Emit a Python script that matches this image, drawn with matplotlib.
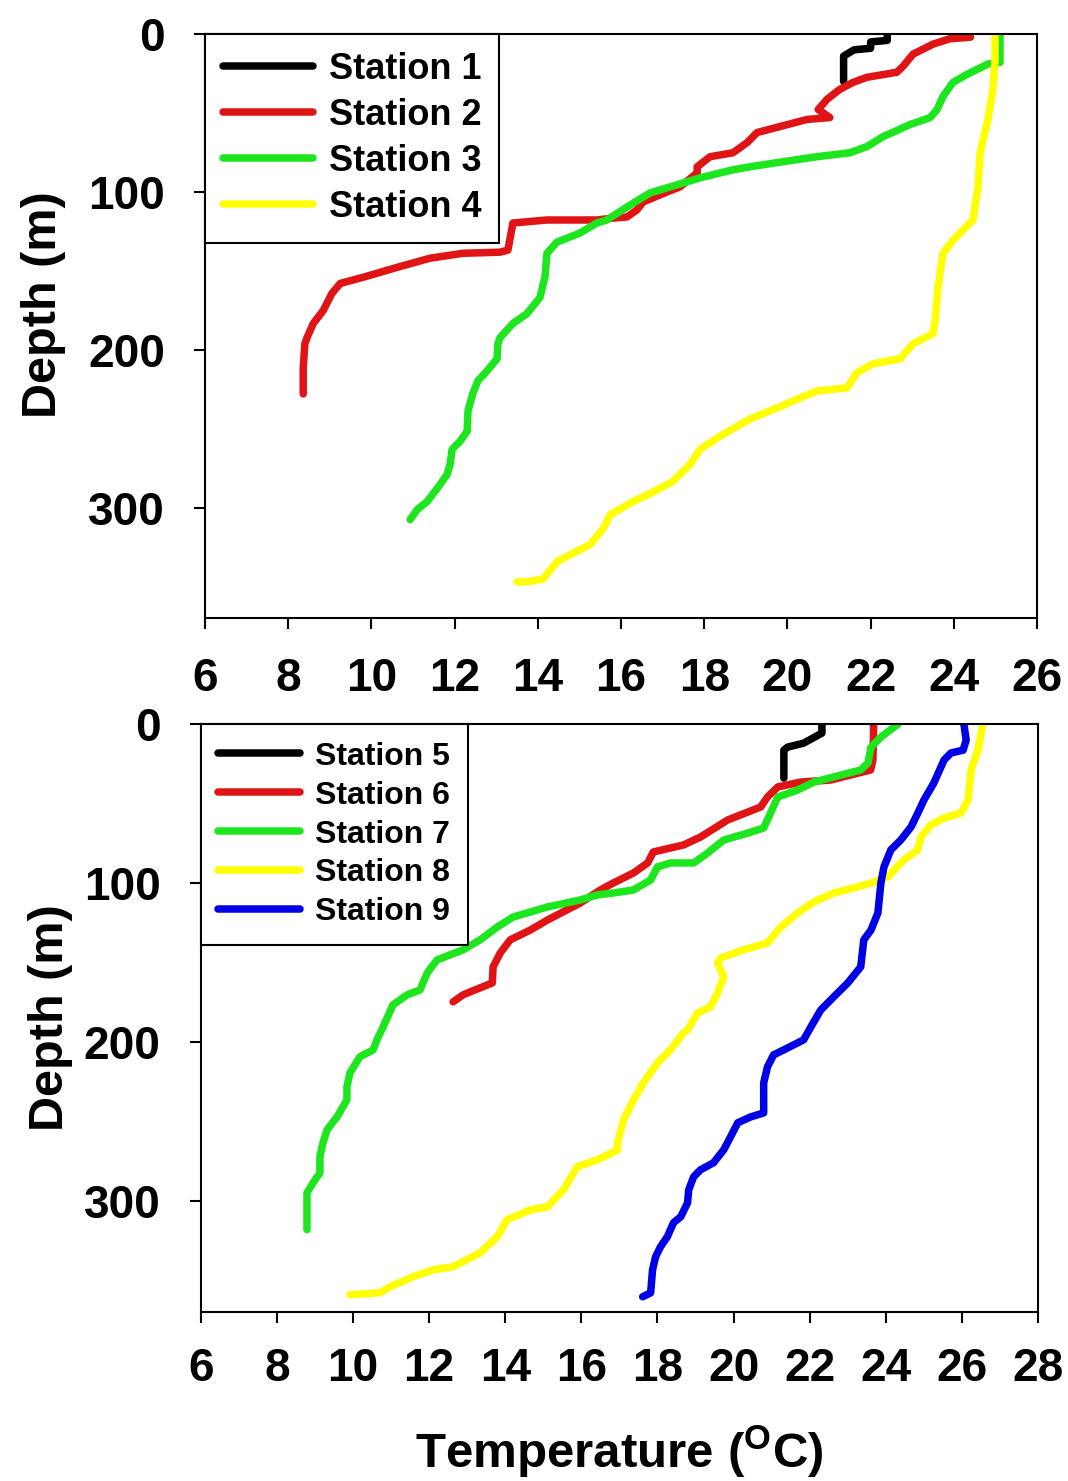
import matplotlib
matplotlib.use('Agg')
import matplotlib.pyplot as plt

plt.rcParams['font.family'] = ['Liberation Sans', 'DejaVu Sans']
plt.rcParams['font.weight'] = 'bold'
plt.rcParams['mathtext.fontset'] = 'custom'
plt.rcParams['mathtext.rm'] = 'Liberation Sans:bold'
plt.rcParams['mathtext.bf'] = 'Liberation Sans:bold'

# ---- upper panel: stations 1-4 (temperature degC, depth m) ----
st1_temp = [22.4, 22.4, 22.0, 22.0, 21.6, 21.35, 21.35]
st1_depth = [0, 4, 5, 9, 10, 14, 30]

st2_temp = [24.3, 24.4, 23.9, 23.5, 23.02, 22.78, 22.63, 21.91, 21.58, 21.26, 20.95,
            20.74, 21.02, 20.47, 19.82, 19.27, 19.03, 18.69, 18.14, 17.83, 17.83,
            17.42, 17.11, 16.53, 16.38, 16.14, 15.81, 15.42, 14.22, 13.4, 13.28,
            13.09, 12.2, 11.41, 10.62, 9.8, 9.25, 9.05, 8.84, 8.6, 8.45, 8.4, 8.36, 8.36]
st2_depth = [0, 2, 3, 6.4, 12.7, 20.4, 24.2, 27.4, 30.6, 35, 41.4,
             47.8, 52.9, 54.1, 58.6, 62.4, 68.8, 75.2, 77.7, 84.1, 87.9,
             96.8, 100, 106.4, 111.5, 115.9, 116.6, 117.8, 117.8, 119.7, 136.9,
             138.2, 138.9, 142, 147.8, 154.1, 158, 164.3, 175.2, 183.4, 192.4, 196.2, 211.5, 228]

st3_temp = [25.11, 25.11, 24.82, 24.32, 23.98, 23.74, 23.6, 23.43, 22.95, 22.3, 21.91,
            21.5, 20.71, 19.89, 19.1, 18.69, 17.9, 17.35, 16.7, 16.14, 15.66, 15.42,
            15.01, 14.46, 14.22, 14.17, 14.05, 13.74, 13.4, 13.09, 13.04, 13.02, 12.78,
            12.56, 12.44, 12.32, 12.3, 12.13, 11.94, 11.89, 11.82, 11.58, 11.34, 11.1, 10.93]
st3_depth = [0, 18, 19, 25.5, 30.6, 39.5, 47.8, 52.9, 57.3, 65, 71.3,
             75.2, 77.7, 80.9, 84.1, 86, 91.1, 95.5, 100.6, 109.6, 117.8, 119.7,
             126.1, 131.8, 138.9, 154.1, 166.9, 177.1, 183.4, 192.4, 196.2, 205.7, 213.4,
             219.7, 227.4, 238.9, 251.6, 258, 263.1, 272.6, 279, 287.9, 296.2, 301.3, 307.6]

st4_temp = [24.99, 24.99, 24.94, 24.82, 24.63, 24.58, 24.46, 23.98, 23.74, 23.62, 23.55,
            23.5, 23.02, 22.71, 22.06, 21.67, 21.43, 20.71, 20.3, 19.75, 19.1, 18.38,
            17.9, 17.66, 17.25, 16.7, 16.29, 15.74, 15.57, 15.25, 14.77, 14.46, 14.13,
            13.74, 13.5]
st4_depth = [0, 16, 35, 54, 75.2, 96.8, 117.8, 130.6, 138.9, 160.5, 181.5,
             189.8, 196.2, 205.7, 208.9, 214.6, 224.2, 226.1, 230.6, 236.9, 243.9, 254.8,
             263.1, 272.6, 283.4, 291.1, 296.2, 304.5, 313.4, 323.6, 329.9, 334.4, 345.2,
             347.1, 347.1]

# ---- lower panel: stations 5-9 ----
st5_temp = [22.32, 22.32, 21.84, 21.42, 21.32, 21.32]
st5_depth = [0, 5.7, 12, 14.5, 16.4, 34]

st6_temp = [23.68, 23.66, 23.6, 22.55, 21.76, 21.16, 20.89, 20.71, 19.84, 19.13, 18.68,
            17.89, 17.74, 17.37, 16.84, 16.5, 15.97, 15.11, 14.66, 14.13, 13.87, 13.68,
            13.66, 13.34, 12.89, 12.63]
st6_depth = [0, 22.6, 28.9, 35.2, 36.5, 39.6, 45.9, 52.2, 60.4, 71.1, 76.1,
             80.5, 87.4, 93.7, 100, 104.4, 112.6, 123.3, 129.6, 135.8, 144, 152.8,
             162.9, 166, 170.4, 174.8]

st7_temp = [24.32, 23.87, 23.61, 23.53, 23.34, 22.82, 22.11, 21.68, 21.16, 20.97, 20.79,
            20.37, 19.74, 19.32, 18.95, 18.34, 18.0, 17.82, 17.37, 16.84, 16.42, 15.97,
            15.11, 14.21, 13.79, 13.34, 12.89, 12.21, 11.95, 11.76, 11.42, 11.05, 10.79,
            10.63, 10.53, 10.18, 9.92, 9.84, 9.84, 9.58, 9.32, 9.21, 9.13, 9.13, 8.95,
            8.79, 8.79]
st7_depth = [0, 8.2, 14.5, 24.5, 28.9, 32.1, 36.5, 41.5, 45.9, 56, 65.4,
             68.6, 73, 81.1, 87.4, 87.4, 89.9, 98.1, 104.4, 106.3, 107.5, 110.7,
             115.1, 121.4, 127.7, 135.8, 142.1, 148.4, 156.6, 167.3, 170.4, 176.7, 190.6,
             198.7, 205, 209.4, 219.5, 228.3, 236.5, 247.2, 255.3, 263.5, 272.3, 282.4, 288.7,
             295, 318.2]

st8_temp = [26.55, 26.42, 26.24, 26.16, 25.97, 25.53, 25.18, 24.92, 24.84, 24.47, 24.05,
            23.61, 23.16, 22.63, 22.11, 21.68, 21.24, 20.89, 20.26, 19.66, 19.58, 19.74,
            19.58, 19.39, 19.05, 18.79, 18.68, 18.34, 18.0, 17.63, 17.37, 17.11, 16.95,
            16.95, 16.58, 16.42, 15.89, 15.53, 15.11, 14.66, 14.05, 13.79, 13.34, 12.63,
            12.11, 11.58, 10.97, 10.71, 9.92]
st8_depth = [0, 16.4, 28.9, 47.8, 56, 59.1, 63.5, 71.1, 79.2, 85.5, 96.2,
             100, 103.1, 106.3, 111.9, 118.9, 127.7, 137.7, 142.1, 147.2, 150.3, 159.1,
             169.2, 178, 181.8, 192.5, 194.3, 205, 213.2, 225.8, 236.5, 249.1, 263.5,
             268, 272.3, 274.2, 278.6, 293.1, 303.8, 305.7, 311.9, 322.6, 332.7, 341.5,
             343.4, 347.8, 354.1, 357.9, 359.1]

st9_temp = [26.05, 26.11, 26.03, 25.71, 25.53, 25.26, 25.0, 24.84, 24.66, 24.39, 24.13,
            23.95, 23.87, 23.79, 23.61, 23.42, 23.34, 23.0, 22.63, 22.29, 22.03, 21.84,
            21.42, 21.05, 20.89, 20.79, 20.79, 20.45, 20.11, 19.92, 19.74, 19.47, 19.13,
            18.95, 18.82, 18.79, 18.61, 18.42, 18.26, 18.08, 17.95, 17.87, 17.82, 17.61]
st9_depth = [0, 10.1, 16.4, 18.2, 22.6, 37.1, 47.8, 56, 64.8, 73, 79.2,
             89.9, 100, 118.9, 129.6, 135.8, 152.8, 162.9, 171.7, 179.9, 190.6, 198.7,
             203.8, 208.2, 215.7, 225.8, 244.7, 247.2, 250.9, 259.7, 267.9, 276.1, 280.5,
             284.9, 293.1, 301.3, 310.1, 313.8, 322.6, 328.9, 335.2, 343.4, 357.9, 360.4]

upper_labels = ['Station 1', 'Station 2', 'Station 3', 'Station 4']
lower_labels = ['Station 5', 'Station 6', 'Station 7', 'Station 8', 'Station 9']
upper_xticks = [6, 8, 10, 12, 14, 16, 18, 20, 22, 24, 26]
lower_xticks = [6, 8, 10, 12, 14, 16, 18, 20, 22, 24, 26, 28]
depth_ticks = [0, 100, 200, 300]

BLACK = '#000000'
RED = '#e01414'
GREEN = '#1ee61e'
YELLOW = '#ffff00'
BLUE = '#0000e6'
LW = 5.4

fig = plt.figure(figsize=(10.68, 14.81), dpi=100)
ax1 = fig.add_axes([0.192, 0.5827, 0.779, 0.3943])
ax2 = fig.add_axes([0.188, 0.1141, 0.784, 0.3970])


def style_axis(ax, xmax, xticks, xpad):
    ax.set_xlim(6, xmax)
    ax.set_ylim(370, 0)
    ax.set_xticks(xticks)
    ax.set_yticks(depth_ticks)
    for s in ax.spines.values():
        s.set_linewidth(1.5)
    ax.tick_params(axis='both', direction='out', length=8, width=1.5, labelsize=33)
    ax.tick_params(axis='x', pad=xpad)
    ax.tick_params(axis='y', pad=21)
    for lab in ax.get_xticklabels() + ax.get_yticklabels():
        lab.set_fontweight('bold')
    ax.set_ylabel('Depth (m)', fontsize=35, fontweight='bold')


lines1 = []
for t, d, c in [(st1_temp, st1_depth, BLACK), (st2_temp, st2_depth, RED),
                (st3_temp, st3_depth, GREEN), (st4_temp, st4_depth, YELLOW)]:
    ln, = ax1.plot(t, d, color=c, lw=LW, solid_joinstyle='round', solid_capstyle='round')
    lines1.append(ln)
style_axis(ax1, 26, upper_xticks, 20)
ax1.yaxis.set_label_coords(-0.167, 0.536)
leg1 = ax1.legend(lines1, upper_labels, loc='upper left', bbox_to_anchor=(0, 1),
                  borderaxespad=0, fontsize=26, handlelength=2.5, handletextpad=0.42,
                  labelspacing=0.3, borderpad=0.5, fancybox=False, framealpha=1,
                  edgecolor='black')
leg1.get_frame().set_linewidth(1.5)
for txt in leg1.get_texts():
    txt.set_fontweight('bold')

lines2 = []
for t, d, c in [(st5_temp, st5_depth, BLACK), (st6_temp, st6_depth, RED),
                (st7_temp, st7_depth, GREEN), (st8_temp, st8_depth, YELLOW),
                (st9_temp, st9_depth, BLUE)]:
    ln, = ax2.plot(t, d, color=c, lw=LW, solid_joinstyle='round', solid_capstyle='round')
    lines2.append(ln)
style_axis(ax2, 28, lower_xticks, 17)
ax2.yaxis.set_label_coords(-0.153, 0.5)
leg2 = ax2.legend(lines2, lower_labels, loc='upper left', bbox_to_anchor=(0, 1),
                  borderaxespad=0, fontsize=23, handlelength=2.56, handletextpad=0.47,
                  labelspacing=0.28, borderpad=0.55, fancybox=False, framealpha=1,
                  edgecolor='black')
leg2.get_frame().set_linewidth(1.5)
for txt in leg2.get_texts():
    txt.set_fontweight('bold')

ax2.set_xlabel('Temperature ($^{\\mathbf{O}}$C)', fontsize=35.5, fontweight='bold')
ax2.xaxis.set_label_coords(0.5, -0.19)

fig.savefig('out.png', dpi=100)
